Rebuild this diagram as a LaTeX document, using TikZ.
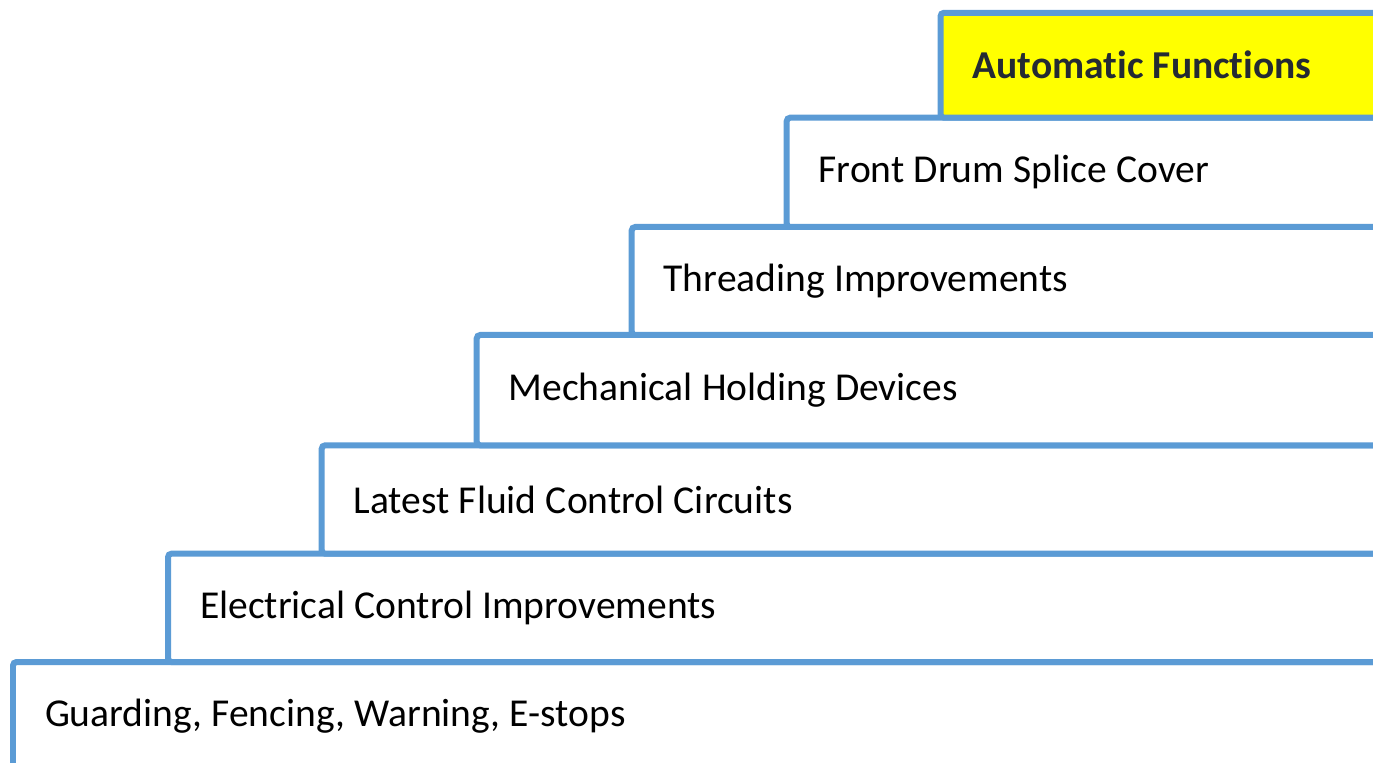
\documentclass[tikz,border=0pt]{standalone}
\usepackage{fontspec}
\setmainfont{Carlito}[Ligatures=NoCommon]
\frenchspacing
\usetikzlibrary{positioning}
\definecolor{stepblue}{HTML}{5B9BD5}
\definecolor{darktext}{HTML}{242A33}
\definecolor{stepyellow}{HTML}{FFFF00}

\begin{document}
\begin{tikzpicture}[stepbox/.style={draw=stepblue, line width=0.12cm, rounded corners=2pt, fill=white, outer sep=0pt, inner xsep=0.64cm, text width=26.72cm, minimum height=2.166cm, align=left, font=\fontsize{22.5}{27}\selectfont, execute at begin node={\spaceskip=0.235em\relax}}]

        \useasboundingbox (0,0) rectangle (27.46,15.24);

        \node[stepbox, anchor=north west] (guard) at (0.26,2.0) {Guarding, Fencing, Warning, E-stops};
        \node[stepbox, minimum height=2.166cm, above right=0cm and 3.1cm of guard.north west] (elec) {Electrical Control Improvements};
        \node[stepbox, minimum height=2.168cm, above right=0cm and 3.074cm of elec.north west] (fluid) {Latest Fluid Control Circuits};
        \node[stepbox, minimum height=2.206cm, above right=0cm and 3.1cm of fluid.north west] (mech) {Mechanical Holding Devices};
        \node[stepbox, minimum height=2.16cm, above right=0cm and 3.1cm of mech.north west] (thread) {Threading Improvements};
        \node[stepbox, minimum height=2.186cm, above right=0cm and 3.1cm of thread.north west] (front) {Front Drum Splice Cover};
        \node[stepbox, minimum height=2.098cm, fill=stepyellow, text=darktext, font=\fontsize{22.5}{27}\selectfont\bfseries, above right=0cm and 3.076cm of front.north west] (auto) {Automatic Functions};

    \end{tikzpicture}
\end{document}
